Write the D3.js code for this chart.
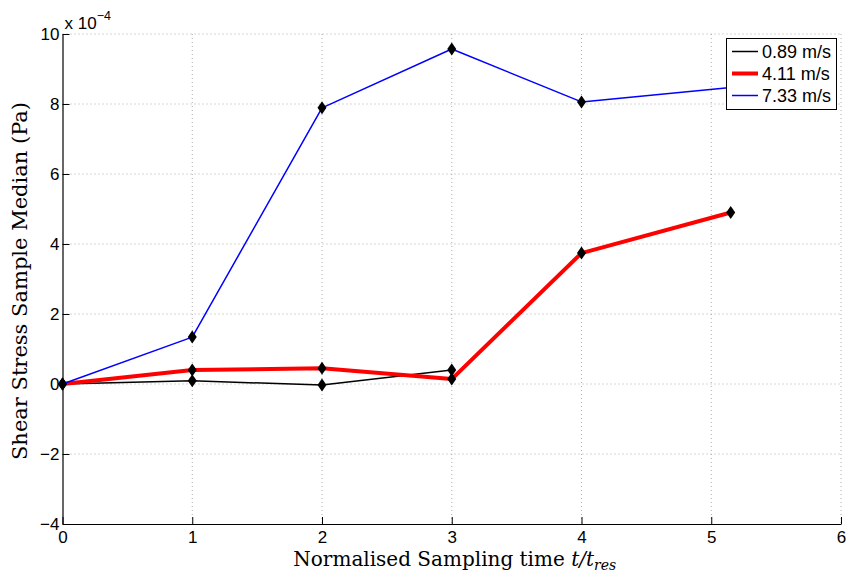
<!DOCTYPE html>
<html><head><meta charset="utf-8">
<script src="https://cdn.jsdelivr.net/npm/d3@7"></script>
<style>body{margin:0;background:#fff}svg{display:block}</style>
</head><body><svg id="c" width="850" height="577"></svg>
<script>
const seriesNames = ["0.89 m/s", "4.11 m/s", "7.33 m/s"];
const colors = ["#000000", "#ff0000", "#0000ff"];
const widths = [1.5, 4, 1.5];
const x089 = [0, 1, 2, 3];
const y089 = [0, 0.09, -0.03, 0.4];
const x411 = [0, 1, 2, 3, 4, 5.15];
const y411 = [0, 0.4, 0.45, 0.14, 3.74, 4.9];
const x733 = [0, 1, 2, 3, 4, 5.15];
const y733 = [0, 1.34, 7.89, 9.57, 8.06, 8.47];
const xTicks = [0, 1, 2, 3, 4, 5, 6];
const yTicks = [-4, -2, 0, 2, 4, 6, 8, 10];

const svg = d3.select("#c");
const L = 62.5, R = 841, T = 34, B = 524;
const x = d3.scaleLinear().domain([0, 6]).range([L, R]);
const y = d3.scaleLinear().domain([-4, 10]).range([B, T]);

// grid
const g = svg.append("g");
g.selectAll(".gx").data(xTicks.filter(d => d > 0)).join("line")
  .attr("x1", d => x(d)).attr("x2", d => x(d)).attr("y1", T).attr("y2", B)
  .attr("stroke", "#999").attr("stroke-width", 0.8).attr("stroke-dasharray", "1,3");
g.selectAll(".gy").data(yTicks.filter(d => d > -4)).join("line")
  .attr("y1", d => y(d)).attr("y2", d => y(d)).attr("x1", L).attr("x2", R)
  .attr("stroke", "#999").attr("stroke-width", 0.8).attr("stroke-dasharray", "1,3");

// axes
const tickFont = "Liberation Sans Narrow, Liberation Sans, Arial, sans-serif";
const xAxis = svg.append("g").attr("transform", `translate(0,${B})`)
  .call(d3.axisBottom(x).tickValues(xTicks).tickSize(-7).tickPadding(7).tickSizeOuter(0)
    .tickFormat(d3.format("d")));
const yAxis = svg.append("g").attr("transform", `translate(${L},0)`)
  .call(d3.axisLeft(y).tickValues(yTicks).tickSize(-7).tickPadding(3).tickSizeOuter(0)
    .tickFormat(d => d < 0 ? "\u2212" + Math.abs(d) : String(d)));
[xAxis, yAxis].forEach(a => {
  a.select(".domain").attr("stroke", "#000").attr("stroke-width", 1.2);
  a.selectAll(".tick line").attr("stroke", "#000");
  a.selectAll("text").attr("font-family", tickFont).attr("font-size", 17).attr("fill", "#000");
});

// exponent label
const ex = svg.append("text").attr("x", x(0) + 2).attr("y", 29)
  .attr("font-family", tickFont).attr("font-size", 17);
ex.append("tspan").text("x 10");
ex.append("tspan").attr("dy", -9).attr("font-size", 12.5).text("\u22124");

// axis labels
const serif = "DejaVu Serif, Liberation Serif, serif";
const xl = svg.append("text").attr("x", (L + R) / 2 + 3).attr("y", 566).attr("text-anchor", "middle")
  .attr("font-family", serif).attr("font-size", 20);
xl.append("tspan").text("Normalised Sampling time ");
xl.append("tspan").attr("font-style", "italic").text("t/t");
xl.append("tspan").attr("font-style", "italic").attr("font-size", 14).attr("dy", 4).text("res");

svg.append("text").attr("transform", `translate(27,${(T + B) / 2 + 2}) rotate(-90)`)
  .attr("text-anchor", "middle").attr("font-family", serif).attr("font-size", 21)
  .text("Shear Stress Sample Median (Pa)");

// series
const series = [
  {xs: x089, ys: y089}, {xs: x411, ys: y411}, {xs: x733, ys: y733}
];
const line = d3.line().x(d => x(d[0])).y(d => y(d[1]));
const diamond = "M0,-6.5L4.5,0L0,6.5L-4.5,0Z";
series.forEach((s, i) => {
  const pts = s.xs.map((v, j) => [v, s.ys[j]]);
  svg.append("path").datum(pts).attr("d", line).attr("fill", "none")
    .attr("stroke", colors[i]).attr("stroke-width", widths[i]).attr("stroke-linejoin", "round");
  svg.append("g").selectAll("path").data(pts).join("path")
    .attr("transform", d => `translate(${x(d[0])},${y(d[1])})`)
    .attr("d", diamond).attr("fill", "#000");
});

// legend
const lg = svg.append("g");
lg.append("rect").attr("x", 726.5).attr("y", 38.5).attr("width", 110).attr("height", 71)
  .attr("fill", "#fff").attr("stroke", "#000").attr("stroke-width", 1);
seriesNames.forEach((n, i) => {
  const yy = 51.5 + i * 22;
  lg.append("line").attr("x1", 732).attr("x2", 758).attr("y1", yy).attr("y2", yy)
    .attr("stroke", colors[i]).attr("stroke-width", widths[i]);
  lg.append("text").attr("x", 762).attr("y", yy + 6.5).attr("font-family", "Liberation Sans, Arial, sans-serif")
    .attr("font-size", 18).text(n);
});
</script></body></html>
